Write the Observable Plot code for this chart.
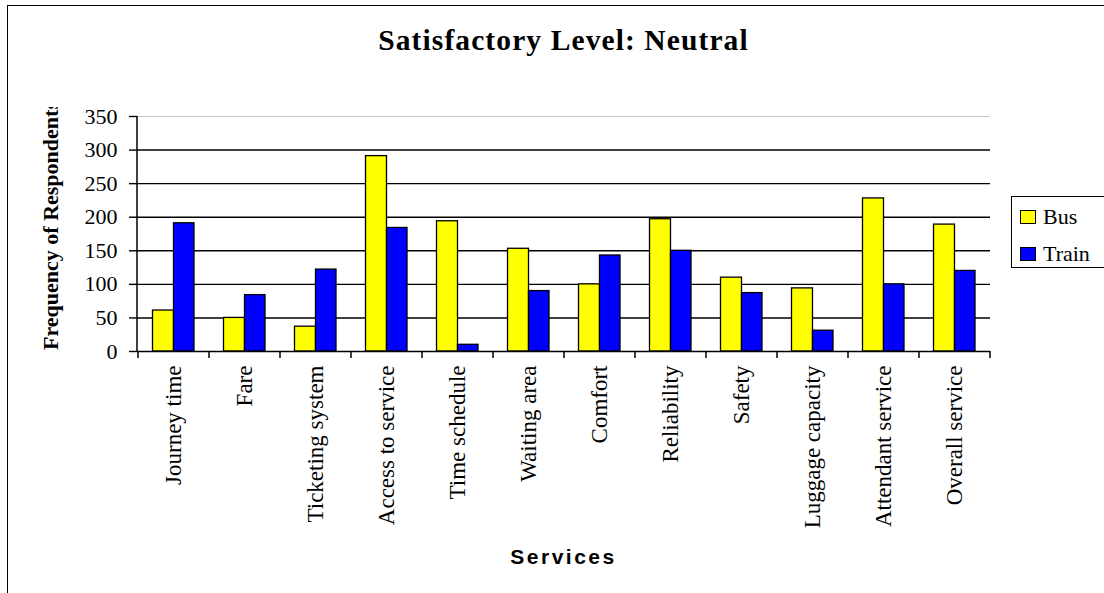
<!DOCTYPE html>
<html>
<head>
<meta charset="utf-8">
<script src="https://cdn.jsdelivr.net/npm/d3@7"></script>
<script src="https://cdn.jsdelivr.net/npm/@observablehq/plot@0.6"></script>
<style>
  html, body { margin: 0; padding: 0; background: #fff; }
  #chart { position: relative; width: 1104px; height: 593px; overflow: hidden; background: #fff; }
  #chart svg { position: absolute; left: 0; top: 0; }
  .border { position: absolute; left: 7px; top: 5px; width: 1300px; height: 800px; border: 1.5px solid #000; box-sizing: border-box; pointer-events: none; }
  .legend { position: absolute; left: 1011px; top: 196px; width: 140px; height: 72px; border: 1.5px solid #000; box-sizing: border-box; background: #fff;
            font-family: "Liberation Serif", "Times New Roman", serif; font-size: 22px; color: #000; }
  .legend .item { position: absolute; left: 8px; height: 24px; display: flex; align-items: center; }
  .legend .sw { width: 16px; height: 14px; border: 1.3px solid #000; box-sizing: border-box; margin-right: 7px; }
</style>
</head>
<body>
<div id="chart"></div>
<script>
// Neutral satisfaction responses per service, bus vs train
const categories = [
  "Journey time", "Fare", "Ticketing system", "Access to service", "Time schedule",
  "Waiting area", "Comfort", "Reliability", "Safety", "Luggage capacity",
  "Attendant service", "Overall service"
];
const busValues   = [61, 50, 37, 291, 194, 153, 100, 197, 110, 94, 228, 189];
const trainValues = [191, 84, 122, 184, 10, 90, 143, 150, 87, 31, 100, 120];
const seriesNames  = ["Bus", "Train"];
const seriesColors = ["#ffff00", "#0000ff"];
const yTicks = [0, 50, 100, 150, 200, 250, 300, 350];
const titleText = "Satisfactory Level: Neutral";
const xTitle = "Services";
const yTitle = "Frequency of Respondents";

const rows = categories.flatMap((c, i) => [
  {service: c, series: seriesNames[0], value: busValues[i]},
  {service: c, series: seriesNames[1], value: trainValues[i]}
]);

const serif = "'Liberation Serif', 'Times New Roman', serif";

const plot = Plot.plot({
  width: 1104,
  height: 593,
  marginLeft: 137,
  marginRight: 114,
  marginTop: 116,
  marginBottom: 242,
  style: {fontFamily: serif, color: "#000", background: "transparent", overflow: "visible"},
  x: {domain: categories, padding: 0, label: null},
  y: {domain: [0, 350], label: null},
  color: {domain: seriesNames, range: seriesColors},
  marks: [
    Plot.gridY(yTicks.filter(t => t > 0 && t < 350), {stroke: "#000", strokeOpacity: 1, strokeWidth: 1.4}),
    Plot.ruleY([350], {stroke: "#c8c8c8", strokeWidth: 1.2}),
    Plot.barY(rows.filter(d => d.series === "Bus"), {
      x: "service", y: "value", fill: "series", stroke: "#000", strokeWidth: 1.3,
      insetLeft: 14.5, insetRight: 35.5
    }),
    Plot.barY(rows.filter(d => d.series === "Train"), {
      x: "service", y: "value", fill: "series", stroke: "#000", strokeWidth: 1.3,
      insetLeft: 35.5, insetRight: 15
    }),
    Plot.ruleY([0], {stroke: "#000", strokeWidth: 1.5}),
    Plot.axisY({ticks: yTicks, tickSize: 8, tickPadding: 12, fontSize: 22, label: null, strokeWidth: 1.4}),
    Plot.axisX({tickSize: 0, tickPadding: 14, tickRotate: -90, fontSize: 23, label: null})
  ]
});

const chart = document.getElementById("chart");
chart.appendChild(plot);

// Extra axis pieces drawn from the plot's own scales
const svg = d3.select(plot);
const xs = plot.scale("x");
const ys = plot.scale("y");
const y0 = ys.apply(0), yTop = ys.apply(350);
const left = xs.range[0], right = xs.range[1];

// vertical axis line
svg.append("line")
  .attr("x1", left).attr("x2", left).attr("y1", yTop).attr("y2", y0)
  .attr("stroke", "#000").attr("stroke-width", 1.5);

// category boundary ticks below the baseline
const bounds = categories.map(c => xs.apply(c)).concat([xs.apply(categories[categories.length - 1]) + xs.bandwidth]);
svg.append("g").selectAll("line").data(bounds).join("line")
  .attr("x1", d => d).attr("x2", d => d).attr("y1", y0).attr("y2", y0 + 7)
  .attr("stroke", "#000").attr("stroke-width", 1.5);

const cx = (left + right) / 2;

// title
svg.append("text")
  .attr("x", cx).attr("y", 49.5)
  .attr("text-anchor", "middle")
  .attr("font-family", serif).attr("font-weight", "bold").attr("font-size", 29.5)
  .attr("letter-spacing", "1.1px")
  .text(titleText);

// x axis title
svg.append("text")
  .attr("x", cx).attr("y", 564)
  .attr("text-anchor", "middle")
  .attr("font-family", "'Liberation Sans', Arial, sans-serif").attr("font-weight", "bold")
  .attr("font-size", 21).attr("letter-spacing", "2.5px")
  .text(xTitle);

// y axis title, clipped at the top of the chart area
svg.append("clipPath").attr("id", "ylab-clip")
  .append("rect").attr("x", 0).attr("y", 107).attr("width", left).attr("height", 500);
svg.append("g").attr("clip-path", "url(#ylab-clip)")
  .append("text")
  .attr("transform", "translate(58,350) rotate(-90)")
  .attr("text-anchor", "start")
  .attr("font-family", serif).attr("font-weight", "bold").attr("font-size", 22)
  .text(yTitle);

// frame around the chart
const border = document.createElement("div");
border.className = "border";
chart.appendChild(border);

// legend
const legend = document.createElement("div");
legend.className = "legend";
seriesNames.forEach((name, i) => {
  const item = document.createElement("div");
  item.className = "item";
  item.style.top = (8 + i * 36.5) + "px";
  const sw = document.createElement("span");
  sw.className = "sw";
  sw.style.background = seriesColors[i];
  const label = document.createElement("span");
  label.textContent = name;
  item.appendChild(sw);
  item.appendChild(label);
  legend.appendChild(item);
});
chart.appendChild(legend);
</script>
</body>
</html>
